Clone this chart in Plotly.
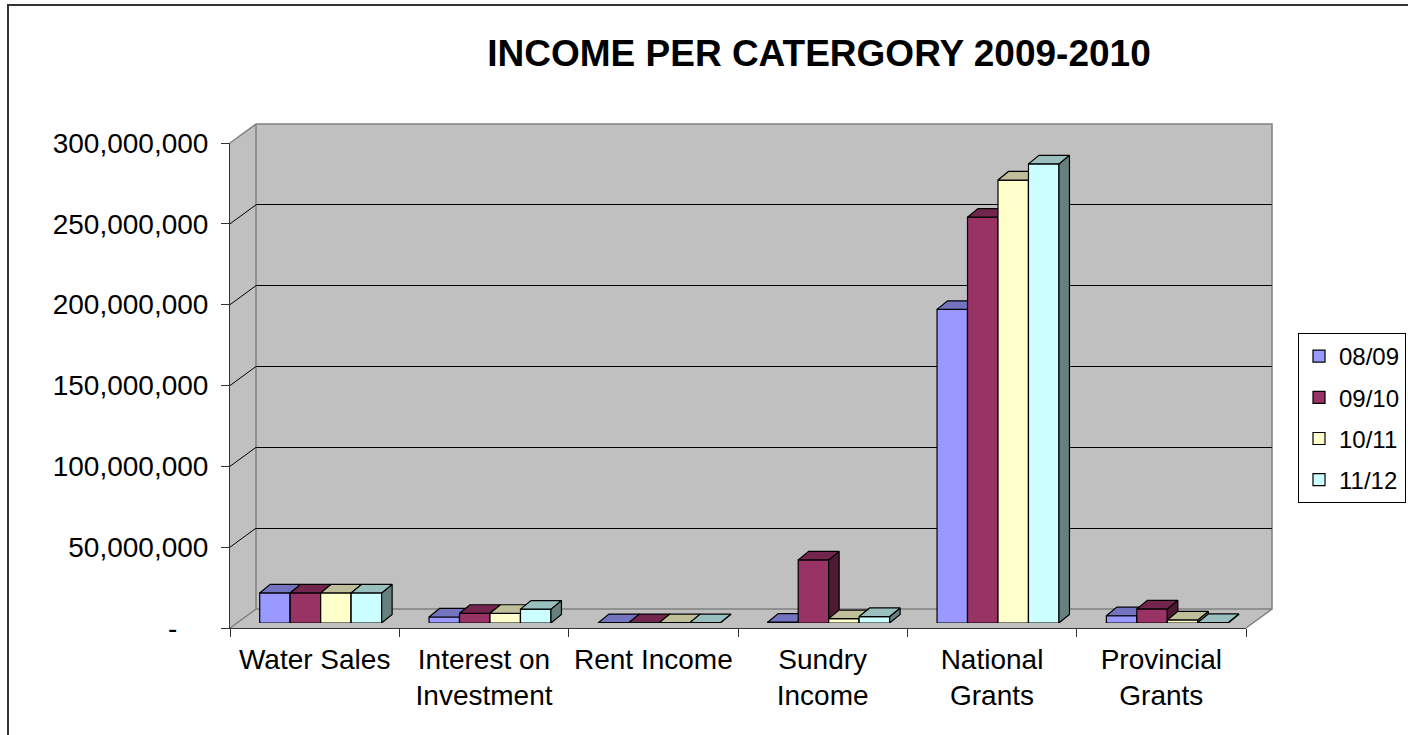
import plotly.graph_objects as go

# ---------------- data ----------------
categories = ["Water Sales", "Interest on<br>Investment", "Rent Income",
              "Sundry<br>Income", "National<br>Grants", "Provincial<br>Grants"]
series_names = ["08/09", "09/10", "10/11", "11/12"]
v_0809 = [18.6e6, 3.7e6, 0.2e6, 0.5e6, 194e6, 4.5e6]
v_0910 = [18.6e6, 6.0e6, 0.2e6, 39e6, 251e6, 8.7e6]
v_1011 = [18.6e6, 6.0e6, 0.2e6, 2.7e6, 274e6, 1.9e6]
v_1112 = [18.6e6, 8.6e6, 0.2e6, 4.0e6, 284e6, 0.3e6]
series_values = [v_0809, v_0910, v_1011, v_1112]
y_ticks = [0, 50e6, 100e6, 150e6, 200e6, 250e6, 300e6]
title_text = "INCOME PER CATERGORY 2009-2010"

# ---------------- style ----------------
front_colors = ["#9999FF", "#993366", "#FFFFCC", "#CCFFFF"]
top_colors = ["#7373BF", "#73264D", "#BFBF99", "#99BFBF"]
side_colors = ["#4D4D80", "#4D1A33", "#808066", "#668080"]
FONT = "Liberation Sans, Arial, sans-serif"
W, H = 1408, 735


def px(x):
    return x / W


def py(y):
    return 1 - y / H


YMAX = 300e6
bar_w = 0.18          # width of one bar in category units
depth_x = 0.062       # depth offset in category units
depth_y = 5.3e6       # depth offset in value units

fig = go.Figure()

# front plane axes (ticks & labels)
fig.add_trace(go.Scatter(x=categories, y=[None] * len(categories), mode="markers",
                         marker=dict(opacity=0), showlegend=False, hoverinfo="skip",
                         xaxis="x", yaxis="y"))
# back wall axes (gridlines)
fig.add_trace(go.Scatter(x=[0], y=[None], mode="markers", marker=dict(opacity=0),
                         showlegend=False, hoverinfo="skip", xaxis="x2", yaxis="y2"))

# bars, one overlaid subplot per series (painter's order left -> right)
for s, (name, vals) in enumerate(zip(series_names, series_values)):
    xa = "x%d" % (s + 3)
    ya = "y%d" % (s + 3)
    xs = list(range(len(categories)))
    fig.add_trace(go.Bar(x=xs, y=vals, width=bar_w, offset=(s - 2) * bar_w,
                         name=name, legendgroup=name,
                         marker=dict(color=front_colors[s], line=dict(color="black", width=1.2)),
                         xaxis=xa, yaxis=ya, hoverinfo="skip"))
    tx, ty, sx, sy = [], [], [], []
    for c, v in enumerate(vals):
        xl = c + (s - 2) * bar_w
        xr = xl + bar_w
        tx += [xl, xr, xr + depth_x, xl + depth_x, xl, None]
        ty += [v, v, v + depth_y, v + depth_y, v, None]
        sx += [xr, xr, xr + depth_x, xr + depth_x, xr, None]
        sy += [0, v, v + depth_y, depth_y, 0, None]
    fig.add_trace(go.Scatter(x=sx, y=sy, mode="lines", fill="toself",
                             fillcolor=side_colors[s], line=dict(color="black", width=1.2),
                             showlegend=False, hoverinfo="skip", xaxis=xa, yaxis=ya))
    fig.add_trace(go.Scatter(x=tx, y=ty, mode="lines", fill="toself",
                             fillcolor=top_colors[s], line=dict(color="black", width=1.2),
                             showlegend=False, hoverinfo="skip", xaxis=xa, yaxis=ya))

# ---------------- geometry of the 3D box (pixels) ----------------
FX0, FX1, FY0, FY1 = 230, 1246, 143, 628     # front plane
DX, DY = 26, 19                              # wall depth offset
BX0, BX1, BY0, BY1 = FX0 + DX, FX1 + DX, FY0 - DY, FY1 - DY
BAR_DX, BAR_DY = 6, 5

shapes = []
# outer frame (clipped by the page edges)
shapes.append(dict(type="rect", xref="paper", yref="paper",
                   x0=px(8), x1=px(W + 20), y0=py(H + 20), y1=py(5),
                   line=dict(color="#333333", width=2), fillcolor="rgba(0,0,0,0)", layer="below"))
# grey walls + floor
wall_path = "M {},{} L {},{} L {},{} L {},{} L {},{} L {},{} Z".format(
    px(FX0), py(FY0), px(BX0), py(BY0), px(BX1), py(BY0), px(BX1), py(BY1),
    px(FX1), py(FY1), px(FX0), py(FY1))
shapes.append(dict(type="path", xref="paper", yref="paper", path=wall_path,
                   fillcolor="#C0C0C0", line=dict(width=0), layer="below"))
# wall edges: side-wall top, back-wall outline, floor edges
edge_path = ("M {},{} L {},{} L {},{} L {},{} L {},{} "
             "M {},{} L {},{} L {},{} "
             "M {},{} L {},{}").format(
    px(FX0), py(FY0), px(BX0), py(BY0), px(BX1), py(BY0), px(BX1), py(BY1),
    px(FX1), py(FY1),
    px(BX0), py(BY0), px(BX0), py(BY1), px(BX1), py(BY1),
    px(FX0), py(FY1), px(BX0), py(BY1))
shapes.append(dict(type="path", xref="paper", yref="paper", path=edge_path,
                   line=dict(color="#808080", width=1.5), layer="below"))
# side-wall gridline diagonals, anchored on the value axis
for t in y_ticks[1:-1]:
    shapes.append(dict(type="line", xref="paper", yref="y", xsizemode="pixel",
                       ysizemode="pixel", xanchor=px(FX0), yanchor=t,
                       x0=0, x1=DX, y0=0, y1=DY, line=dict(color="black", width=1),
                       layer="below"))

ticktext = [("{:,.0f}".format(t) if t else "-" + "\u00a0" * 4) for t in y_ticks]

layout = dict(
    width=W, height=H,
    margin=dict(l=0, r=0, t=0, b=0, autoexpand=False),
    paper_bgcolor="white", plot_bgcolor="rgba(0,0,0,0)",
    font=dict(family=FONT, size=28, color="black"),
    title=dict(text="<b>" + title_text + "</b>", x=px(819), y=py(53.5),
               xanchor="center", yanchor="middle",
               font=dict(family=FONT, size=37, color="black")),
    showlegend=True,
    legend=dict(x=px(1298), y=py(333), xanchor="left", yanchor="top",
                bgcolor="white", bordercolor="black", borderwidth=1,
                font=dict(family=FONT, size=24, color="black"),
                traceorder="grouped", tracegroupgap=7, itemclick=False),
    xaxis=dict(domain=[px(FX0), px(FX1)], anchor="y", type="category",
               categoryarray=categories, range=[-0.5, len(categories) - 0.5],
               tickson="boundaries", ticks="outside", ticklen=8, tickcolor="#333333",
               showline=True, linecolor="#333333", linewidth=1, showgrid=False,
               zeroline=False, fixedrange=True, ticklabelstandoff=6),
    yaxis=dict(domain=[py(FY1), py(FY0)], anchor="x", range=[0, YMAX],
               tickvals=y_ticks, ticktext=ticktext, ticks="outside", ticklen=8,
               tickcolor="#333333", showline=True, linecolor="#333333", linewidth=1,
               showgrid=False, zeroline=False, fixedrange=True, ticklabelstandoff=7),
    xaxis2=dict(domain=[px(BX0), px(BX1)], anchor="y2", range=[0, 1], visible=False),
    yaxis2=dict(domain=[py(BY1), py(BY0)], anchor="x2", range=[0, YMAX],
                tickvals=y_ticks[1:-1], showgrid=True, gridcolor="black", gridwidth=1,
                showticklabels=False, ticks="", zeroline=False, showline=False),
    shapes=shapes,
)
bx0, by1 = FX0 + BAR_DX, FY1 - BAR_DY
for s in range(4):
    n = s + 3
    xa = dict(domain=[px(bx0), px(bx0 + (FX1 - FX0))], range=[-0.5, len(categories) - 0.5],
              visible=False, anchor="y%d" % n)
    ya = dict(domain=[py(by1), py(by1 - (FY1 - FY0))], range=[0, YMAX],
              visible=False, anchor="x%d" % n)
    if s > 0:
        xa["overlaying"] = "x3"
        ya["overlaying"] = "y3"
    layout["xaxis%d" % n] = xa
    layout["yaxis%d" % n] = ya

fig.update_layout(**layout)
fig.write_html("out.html", config={"displayModeBar": False},
               post_script="document.body.style.margin='0';document.body.style.overflow='hidden';")
